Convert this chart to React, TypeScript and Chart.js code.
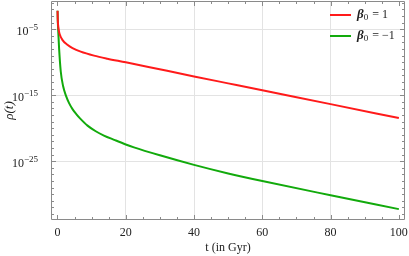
import React, { useEffect, useRef } from "react";
import { Chart, registerables } from "chart.js";

Chart.register(...registerables);

// ---- data ----
const tRed = [0.02, 0.08, 0.18, 0.4, 0.67, 1.43, 2.9, 4.4, 6.8, 10.7, 14.6, 20, 27, 40, 50, 60, 80, 100];
const rhoRed = [6.3e-3, 3.2e-4, 4.5e-5, 6.3e-6, 1.58e-6, 2.5e-7, 4.5e-8, 1.41e-8, 4e-9, 1e-9, 3.5e-10, 1e-10, 1.78e-11, 7.1e-13, 6.3e-14, 5.6e-15, 4.5e-17, 3.5e-19];

const tGreen = [0.02, 0.08, 0.18, 0.47, 0.96, 1.64, 2.5, 3.4, 4.4, 5.5, 6.6, 8.8, 11.2, 13.6, 16.6, 20, 22.4, 30, 40, 50, 60, 80, 100];
const rhoGreen = [6.3e-3, 2.5e-4, 1.41e-5, 1.26e-8, 4e-12, 2.5e-14, 7.9e-16, 6.3e-17, 7.9e-18, 1.41e-18, 3.2e-19, 2.5e-20, 3.5e-21, 7.9e-22, 1.78e-22, 3.5e-23, 1.26e-23, 7.9e-25, 2.8e-26, 1.41e-27, 1e-28, 7.1e-31, 5.6e-33];

const seriesLabels = ["1", "\u22121"]; // β0 values
const seriesColors = ["#ff1a1a", "#12aa0c"];

const xMajorTicks = [0, 20, 40, 60, 80, 100];
const yMajorExponents = [-5, -15, -25];

const FONT = "'Liberation Serif', 'Times New Roman', serif";
const FRAME = "#8a8a8a";
const GRID = "#e3e3e3";
const TEXT = "#222";

const frameTicks = {
  id: "frameTicks",
  afterDatasetsDraw(chart: any) {
    const { ctx, chartArea: a, scales } = chart;
    const x = scales.x;
    const y = scales.y;
    ctx.save();
    ctx.strokeStyle = FRAME;
    ctx.lineWidth = 1;
    ctx.beginPath();
    ctx.rect(Math.round(a.left) + 0.5, Math.round(a.top) + 0.5, Math.round(a.right - a.left) - 1, Math.round(a.bottom - a.top) - 1);
    ctx.stroke();
    ctx.beginPath();
    for (const t of x.ticks) {
      const px = Math.round(x.getPixelForValue(t.value)) + 0.5;
      const len = t.major ? 5 : 3;
      ctx.moveTo(px, a.bottom);
      ctx.lineTo(px, a.bottom - len);
      ctx.moveTo(px, a.top);
      ctx.lineTo(px, a.top + len);
    }
    for (const t of y.ticks) {
      const py = Math.round(y.getPixelForValue(t.value)) + 0.5;
      const len = t.major ? 5 : 3;
      ctx.moveTo(a.left, py);
      ctx.lineTo(a.left + len, py);
      ctx.moveTo(a.right, py);
      ctx.lineTo(a.right - len, py);
    }
    ctx.stroke();

    // y tick labels as 10 with a raised exponent
    ctx.fillStyle = TEXT;
    ctx.textBaseline = "alphabetic";
    ctx.textAlign = "left";
    for (const k of yMajorExponents) {
      const py = y.getPixelForValue(Math.pow(10, k));
      const exp = "\u2212" + String(-k);
      ctx.font = `9px ${FONT}`;
      const wExp = ctx.measureText(exp).width;
      ctx.font = `12px ${FONT}`;
      const wBase = ctx.measureText("10").width;
      const right = a.left - 13;
      ctx.fillText("10", right - wExp - wBase, py + 5.5);
      ctx.font = `9px ${FONT}`;
      ctx.fillText(exp, right - wExp, py + 1);
    }

    // legend inside the plot, top right
    chart.data.datasets.forEach((ds: any, i: number) => {
      const ly = a.top + 14 + i * 21;
      const lx = a.right - 75;
      ctx.strokeStyle = ds.borderColor;
      ctx.lineWidth = 2;
      ctx.beginPath();
      ctx.moveTo(lx, ly);
      ctx.lineTo(lx + 21, ly);
      ctx.stroke();
      ctx.fillStyle = TEXT;
      ctx.textBaseline = "middle";
      let tx = lx + 27;
      ctx.font = `italic bold 13px ${FONT}`;
      ctx.fillText("\u03b2", tx, ly);
      tx += ctx.measureText("\u03b2").width;
      ctx.font = `9px ${FONT}`;
      ctx.fillText("0", tx, ly + 3);
      tx += ctx.measureText("0").width + 1;
      ctx.font = `12px ${FONT}`;
      ctx.fillText(" = " + seriesLabels[i], tx, ly);
    });
    ctx.restore();
  },
};

export default function App() {
  const ref = useRef<HTMLCanvasElement>(null);
  useEffect(() => {
    document.body.style.margin = "0";
    const canvas = ref.current!;
    const chart = new Chart(canvas, {
      type: "line",
      data: {
        datasets: [
          {
            label: "beta0 = 1",
            data: tRed.map((t, i) => ({ x: t, y: rhoRed[i] })),
            borderColor: seriesColors[0],
            borderWidth: 2,
            pointRadius: 0,
            cubicInterpolationMode: "monotone",
          },
          {
            label: "beta0 = -1",
            data: tGreen.map((t, i) => ({ x: t, y: rhoGreen[i] })),
            borderColor: seriesColors[1],
            borderWidth: 2,
            pointRadius: 0,
            cubicInterpolationMode: "monotone",
          },
        ],
      },
      options: {
        animation: false,
        responsive: false,
        devicePixelRatio: 1,
        layout: { padding: { top: 1, right: 4, left: 0, bottom: 0 } },
        plugins: { legend: { display: false }, tooltip: { enabled: false } },
        scales: {
          x: {
            type: "linear",
            min: -1.9,
            max: 101.8,
            afterBuildTicks: (s: any) => {
              const ticks = [];
              for (let v = 0; v <= 100; v += 5) ticks.push({ value: v, major: xMajorTicks.includes(v) });
              s.ticks = ticks;
            },
            afterFit: (s: any) => {
              s.height = 36;
              s.paddingLeft = 0;
              s.paddingRight = 0;
            },
            ticks: {
              autoSkip: false,
              maxRotation: 0,
              padding: 6,
              color: TEXT,
              font: { family: FONT, size: 12 },
              callback: (v: any) => (xMajorTicks.includes(v) ? String(v) : ""),
            },
            grid: {
              drawTicks: false,
              color: (c: any) => (c.tick && c.tick.major && c.tick.value > 0 && c.tick.value < 100 ? GRID : "transparent"),
            },
            border: { display: false },
            title: {
              display: true,
              text: "t (in Gyr)",
              color: TEXT,
              font: { family: FONT, size: 12 },
              padding: { top: 0, bottom: 1 },
            },
          },
          y: {
            type: "logarithmic",
            min: Math.pow(10, -33.9),
            max: Math.pow(10, -0.72),
            afterBuildTicks: (s: any) => {
              const ticks = [];
              for (let k = -33; k <= -1; k++) ticks.push({ value: Math.pow(10, k), major: yMajorExponents.includes(k) });
              s.ticks = ticks;
            },
            afterFit: (s: any) => {
              s.width = 51;
              s.paddingTop = 0;
              s.paddingBottom = 0;
            },
            ticks: {
              autoSkip: false,
              padding: 13,
              callback: () => "",
            },
            grid: {
              drawTicks: false,
              color: (c: any) => (c.tick && c.tick.major ? GRID : "transparent"),
            },
            border: { display: false },
            title: {
              display: true,
              text: "\u03c1(t)",
              color: TEXT,
              font: { family: FONT, size: 13, style: "italic" },
              padding: { top: 2, bottom: 0 },
            },
          },
        },
      },
      plugins: [frameTicks],
    });
    return () => chart.destroy();
  }, []);
  return <canvas ref={ref} width={409} height={256} style={{ display: "block" }} />;
}
